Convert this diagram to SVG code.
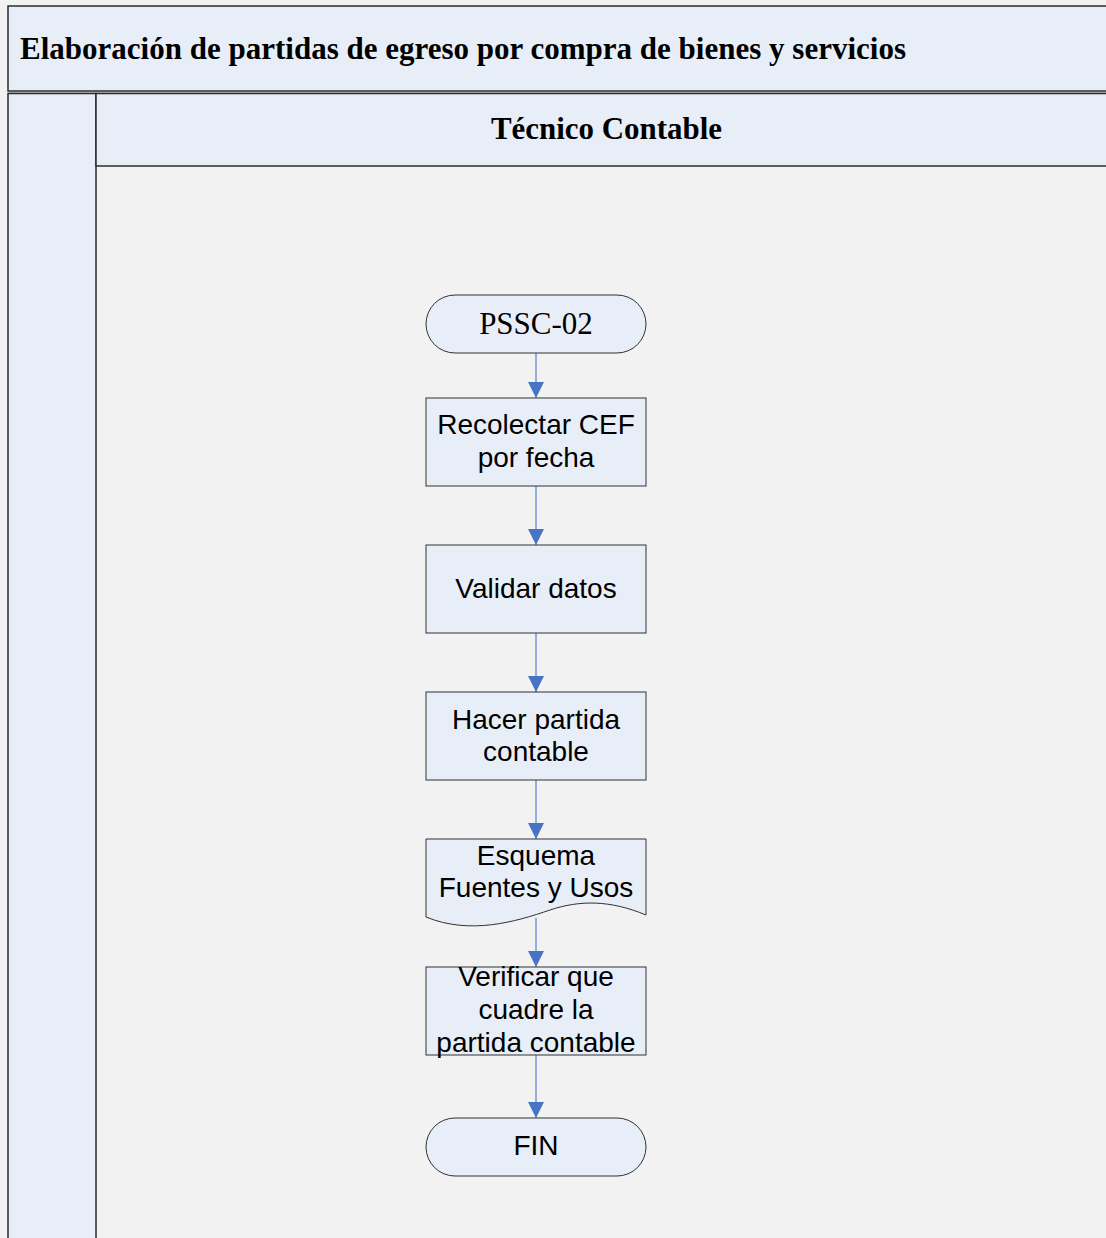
<svg xmlns="http://www.w3.org/2000/svg" width="1106" height="1238" viewBox="0 0 1106 1238">
  <style>
    .frame { fill: #e8eef8; stroke: #2b2b2b; stroke-width: 1.5; }
    .node { fill: #e8eef8; stroke: #303030; stroke-width: 1; }
    .hdr { font-family: "Liberation Serif", "Times New Roman", serif; font-weight: bold; font-size: 31px; fill: #000; }
    .lbl { font-family: "Liberation Sans", Arial, sans-serif; font-size: 28px; fill: #000; text-anchor: middle; }
    .lbl-serif { font-family: "Liberation Serif", "Times New Roman", serif; font-size: 31px; fill: #000; text-anchor: middle; }
    .conn { stroke: #7398d6; stroke-width: 1.5; fill: none; marker-end: url(#arrow); }
  </style>
  <defs>
    <marker id="arrow" markerWidth="16" markerHeight="16" refX="8" refY="16" orient="0" markerUnits="userSpaceOnUse">
      <path d="M0,0 L16,0 L8,16 Z" fill="#4774c4"/>
    </marker>
  </defs>

  <rect x="0" y="0" width="1106" height="1238" fill="#f2f2f2"/>

  <!-- pool title -->
  <g id="pool-title">
    <rect class="frame" x="8" y="6" width="1110" height="85"/>
    <text class="hdr" x="20" y="59" textLength="886" lengthAdjust="spacingAndGlyphs">Elaboración de partidas de egreso por compra de bienes y servicios</text>
  </g>
  <line x1="8" y1="93.5" x2="1106" y2="93.5" stroke="#2b2b2b" stroke-width="1.5"/>

  <!-- left band -->
  <g id="pool-band">
    <rect class="frame" x="8" y="93.5" width="88" height="1160"/>
  </g>

  <!-- lane header -->
  <g id="lane-header">
    <rect class="frame" x="96" y="93.5" width="1020" height="72.5"/>
    <text class="hdr" x="491" y="139" textLength="231" lengthAdjust="spacingAndGlyphs">Técnico Contable</text>
  </g>

  <!-- connectors -->
  <g id="connectors">
    <line class="conn" x1="536" y1="353" x2="536" y2="398"/>
    <line class="conn" x1="536" y1="486" x2="536" y2="545"/>
    <line class="conn" x1="536" y1="633" x2="536" y2="692"/>
    <line class="conn" x1="536" y1="780" x2="536" y2="839"/>
    <line class="conn" x1="536" y1="918" x2="536" y2="967"/>
    <line class="conn" x1="536" y1="1055" x2="536" y2="1118"/>
  </g>

  <g id="start">
    <rect class="node" x="426" y="295" width="220" height="58" rx="29" ry="29"/>
    <text class="lbl-serif" x="536" y="334">PSSC-02</text>
  </g>

  <g id="recolectar">
    <rect class="node" x="426" y="398" width="220" height="88"/>
    <text class="lbl" x="536" y="434">Recolectar CEF</text>
    <text class="lbl" x="536" y="467">por fecha</text>
  </g>

  <g id="validar">
    <rect class="node" x="426" y="545" width="220" height="88"/>
    <text class="lbl" x="536" y="598">Validar datos</text>
  </g>

  <g id="hacer-partida">
    <rect class="node" x="426" y="692" width="220" height="88"/>
    <text class="lbl" x="536" y="729">Hacer partida</text>
    <text class="lbl" x="536" y="761">contable</text>
  </g>

  <g id="esquema">
    <path class="node" d="M426,839 H646 V915 C610,900 580,900 550,910 C515,922 470,935 426,917 Z"/>
    <text class="lbl" x="536" y="865">Esquema</text>
    <text class="lbl" x="536" y="897">Fuentes y Usos</text>
  </g>

  <g id="verificar">
    <rect class="node" x="426" y="967" width="220" height="88"/>
    <text class="lbl" x="536" y="986">Verificar que</text>
    <text class="lbl" x="536" y="1019">cuadre la</text>
    <text class="lbl" x="536" y="1052">partida contable</text>
  </g>

  <g id="fin">
    <rect class="node" x="426" y="1118" width="220" height="58" rx="29" ry="29"/>
    <text class="lbl" x="536" y="1155">FIN</text>
  </g>
</svg>
